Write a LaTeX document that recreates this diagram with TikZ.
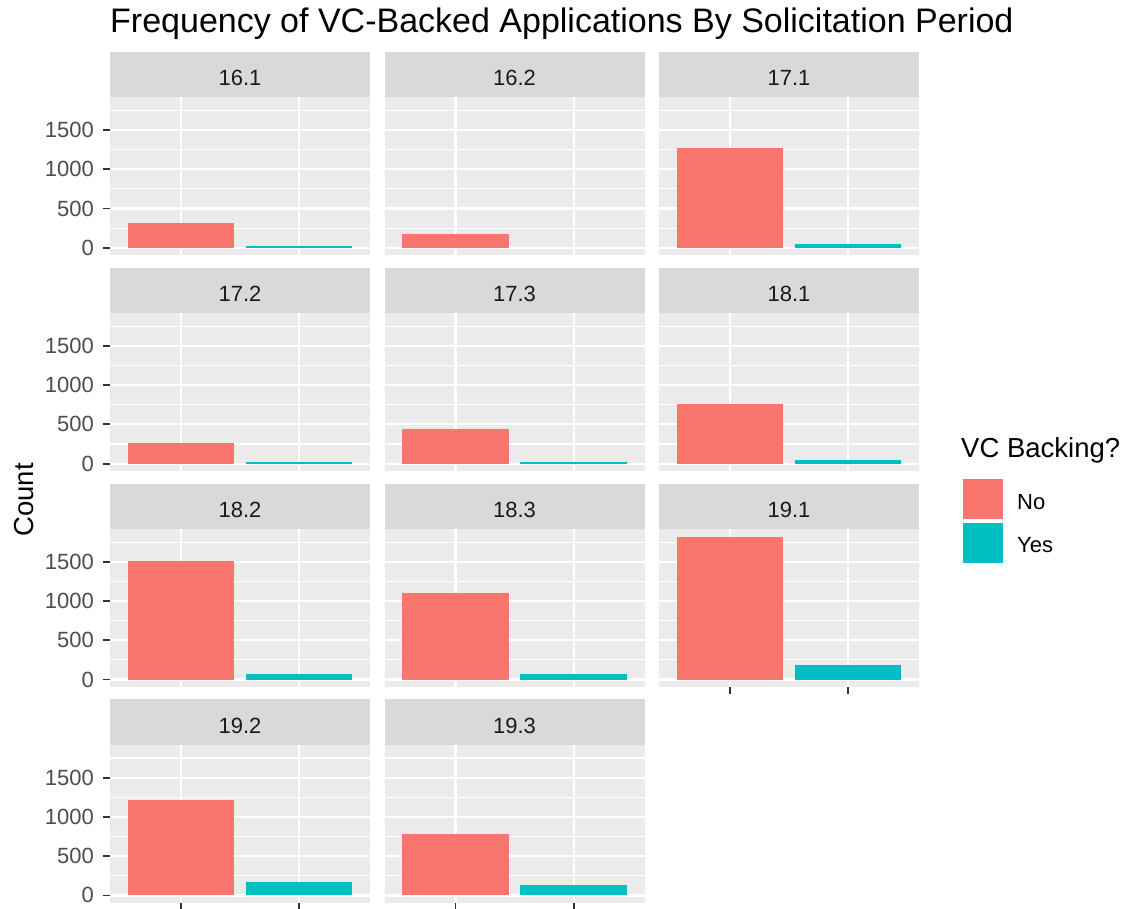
\documentclass[tikz,border=0pt]{standalone}
\usepackage{fontspec}
\setmainfont{Liberation Sans}
\definecolor{nofill}{HTML}{F8766D}
\definecolor{yesfill}{HTML}{00BFC4}
\definecolor{panelbg}{HTML}{EBEBEB}
\definecolor{stripbg}{HTML}{D9D9D9}
\definecolor{ticktext}{HTML}{4D4D4D}
\definecolor{tickline}{HTML}{333333}
\definecolor{striptext}{HTML}{1A1A1A}
\tikzset{
  plottitle/.style={anchor=base west, inner sep=0pt, font=\fontsize{34}{40}\selectfont, text=black},
  axistitle/.style={inner sep=0pt, font=\fontsize{27.5}{32}\selectfont, text=black},
  legtitle/.style={anchor=base west, inner sep=0pt, font=\fontsize{27.5}{32}\selectfont, text=black},
  leglabel/.style={anchor=base west, inner sep=0pt, font=\fontsize{22}{26}\selectfont, text=black},
  striplabel/.style={anchor=base, inner sep=0pt, font=\fontsize{22}{26}\selectfont, text=striptext},
  ticklabel/.style={anchor=east, inner sep=0pt, font=\fontsize{22}{26}\selectfont, text=ticktext},
  majorgrid/.style={draw=white, line width=2.2pt},
  minorgrid/.style={draw=white, line width=1.1pt},
  tickmark/.style={draw=tickline, line width=1.8pt},
}
\begin{document}
\begin{tikzpicture}[x=1pt,y=-1pt]
\useasboundingbox (0,0) rectangle (1127,909);
\fill[white] (0,0) rectangle (1127,909);

% title and y-axis title
\node[plottitle] (title) at (110,33) {Frequency of VC-Backed Applications By Solicitation Period};
\node[axistitle, rotate=90] (ytitle) at (24,500) {Count};

% facets: label / column / row / count No / count Yes
\foreach \lab/\c/\r/\no/\yes [count=\i] in {
  16.1/0/0/318/25, 16.2/1/0/175/0, 17.1/2/0/1266/51,
  17.2/0/1/267/25, 17.3/1/1/437/25, 18.1/2/1/764/42,
  18.2/0/2/1505/76, 18.3/1/2/1097/76, 19.1/2/2/1813/191,
  19.2/0/3/1215/171, 19.3/1/3/782/127} {
  \pgfmathsetmacro\X{110+274.5*\c}
  \pgfmathsetmacro\T{51.7+215.9*\r}
  \pgfmathsetmacro\Z{\T+196}
  \pgfmathsetmacro\CA{\X+70.9}
  \pgfmathsetmacro\CB{\X+189.1}
  % strip
  \fill[stripbg] (\X,\T) rectangle (\X+260,\T+45.6);
  \node[striplabel] (strip\i) at (\X+130,\T+34) {\lab};
  % panel background and grid
  \fill[panelbg] (\X,\T+45.6) rectangle (\X+260,\T+203.3);
  \foreach \v in {250,750,1250,1750}
    \draw[minorgrid] (\X,\Z-\v*0.0785) -- (\X+260,\Z-\v*0.0785);
  \foreach \v in {0,500,1000,1500}
    \draw[majorgrid] (\X,\Z-\v*0.0785) -- (\X+260,\Z-\v*0.0785);
  \draw[majorgrid] (\CA,\T+45.6) -- (\CA,\T+203.3);
  \draw[majorgrid] (\CB,\T+45.6) -- (\CB,\T+203.3);
  % bars (an empty group draws nothing)
  \fill[nofill] (\CA-53.2,\Z) rectangle (\CA+53.2,\Z-\no*0.0785);
  \ifnum\yes>0
    \fill[yesfill] (\CB-53.2,\Z) rectangle (\CB+53.2,\Z-\yes*0.0785);
  \fi
}

% y-axis ticks and labels on the first column
\foreach \r in {0,1,2,3} {
  \pgfmathsetmacro\Z{51.7+215.9*\r+196}
  \foreach \v [count=\k] in {0,500,1000,1500} {
    \draw[tickmark] (103,\Z-\v*0.0785) -- (110,\Z-\v*0.0785);
    \node[ticklabel] (yl\r-\k) at (94,\Z-\v*0.0785) {\v};
  }
}

% x-axis ticks under the bottom panels
\foreach \c/\r in {2/2, 0/3, 1/3} {
  \pgfmathsetmacro\X{110+274.5*\c}
  \pgfmathsetmacro\B{51.7+215.9*\r+203.3}
  \draw[tickmark] (\X+70.9,\B) -- (\X+70.9,\B+7);
  \draw[tickmark] (\X+189.1,\B) -- (\X+189.1,\B+7);
}

% legend
\node[legtitle] (legtitle) at (961,457.5) {VC Backing?};
\fill[nofill] (962.7,479.3) rectangle (1002.7,519.3);
\fill[yesfill] (962.7,522.7) rectangle (1002.7,562.7);
\node[leglabel] (legno) at (1017,509) {No};
\node[leglabel] (legyes) at (1017,552.5) {Yes};
\end{tikzpicture}
\end{document}
